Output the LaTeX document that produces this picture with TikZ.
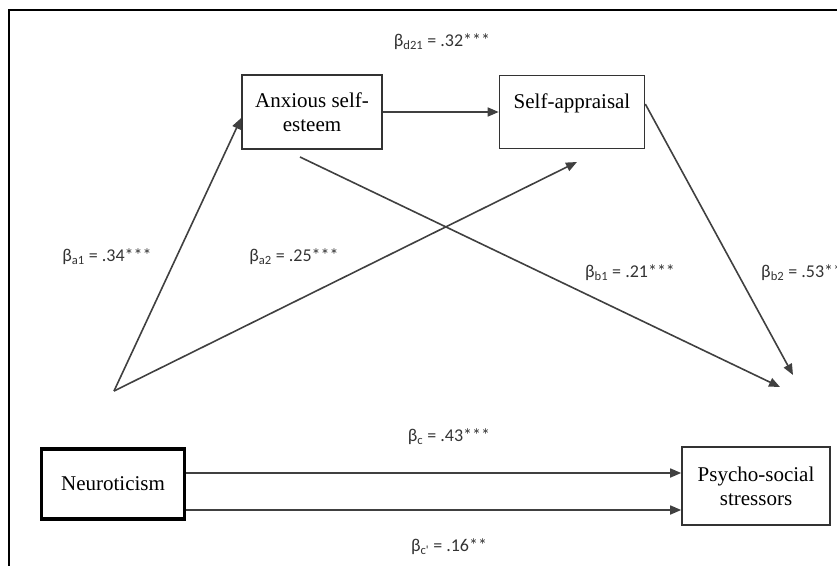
\documentclass[tikz,border=0pt]{standalone}
\usepackage{fontspec}
\setmainfont{Liberation Serif}
\newfontfamily\coeffont{Carlito}
\usetikzlibrary{arrows.meta,positioning}

\begin{document}
\begin{tikzpicture}[
        x=1pt, y=-1pt,
        font=\fontsize{21}{24}\selectfont,
        >={Triangle[length=11pt, width=9pt]},
        var/.style={rectangle, draw=black!80, line width=1.6pt, align=center,
            inner sep=2pt, fill=white},
        coef/.style={font=\coeffont\fontsize{18}{21}\selectfont, text=black!80, inner sep=1pt},
        effect/.style={->, line width=1.6pt, draw=black!75}
    ]
        \useasboundingbox (0,0) rectangle (837,565);
        \clip (0,0) rectangle (837,565);
        \draw[line width=2.2pt] (9,580) |- (850,10);

        \node[var, minimum width=140pt, minimum height=74pt] (anx) at (312,112) {Anxious self-\\esteem};
        \node[var, minimum width=145pt, minimum height=73pt] (sa)  at (572,112) {Self-appraisal\\[-9pt]\strut};
        \node[var, minimum width=143pt, minimum height=70pt, line width=3.2pt, draw=black] (neu) at (113,484) {Neuroticism};
        \node[var, minimum width=148pt, minimum height=78pt] (psy) at (756,486) {Psycho-social\\stressors};

        \coordinate (src)   at (114,391);
        \coordinate (a2end) at (577,162);
        \coordinate (b1beg) at (300,157);
        \coordinate (b1end) at (780,387);
        \coordinate (b2end) at (793,375);

        \draw[effect] (anx) -- (sa);
        \draw[effect] (src) -- ([yshift=-6pt]anx.west);
        \draw[effect] (src) -- (a2end);
        \draw[effect] (b1beg) -- (b1end);
        \draw[effect] ([yshift=8pt]sa.east) -- (b2end);
        \draw[effect] ([yshift=11pt]neu.east) -- ([yshift=11pt]neu.east -| psy.west);
        \draw[effect] ([yshift=-26pt]neu.east) -- ([yshift=-26pt]neu.east -| psy.west);

        \node[coef] (kd)  at (442,42)  {β\textsubscript{d21} = .32***};
        \node[coef] (ka1) at (107,257) {β\textsubscript{a1} = .34***};
        \node[coef] (ka2) at (294,257) {β\textsubscript{a2} = .25***};
        \node[coef] (kb1) at (630,273) {β\textsubscript{b1} = .21***};
        \node[coef, anchor=west] (kb2) at (760,273) {β\textsubscript{b2} = .53**};
        \node[coef] (kc)  at (449,437) {β\textsubscript{c} = .43***};
        \node[coef] (kcp) at (449,547) {β\textsubscript{c'} = .16**};
    \end{tikzpicture}
\end{document}
